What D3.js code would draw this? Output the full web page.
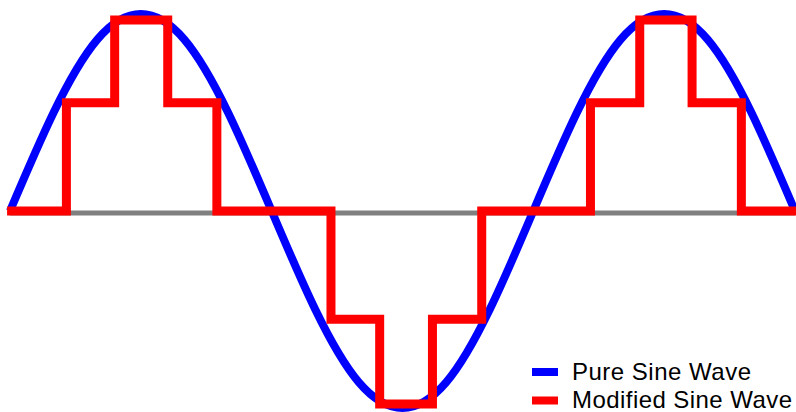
<!DOCTYPE html>
<html>
<head>
<meta charset="utf-8">
<script src="https://cdn.jsdelivr.net/npm/d3@7"></script>
<style>
  body { margin: 0; background: #fff; }
  svg { display: block; }
  .legend text { font-family: "Liberation Sans", Arial, sans-serif; font-size: 24px; fill: #000; }
</style>
</head>
<body>
<script>
// phase in degrees, amplitude in units of the pure sine peak
var sinePhase = [0, 30, 60, 90, 120, 150, 180, 210, 240, 270, 300, 330, 360, 390, 420, 450, 480, 510, 540];
var sineValue = [0, 0.5, 0.87, 1, 0.87, 0.5, 0, -0.5, -0.87, -1, -0.87, -0.5, 0, 0.5, 0.87, 1, 0.87, 0.5, 0];

// modified sine: step edges (degrees) and the level held after each edge
var stepEdges = [-2, 38.8, 72, 108.5, 142.3, 220.8, 254.3, 290.6, 324.5, 399.3, 433.2, 469.2, 503.1, 541];
var stepLevels = [0, 0.55, 0.97, 0.55, 0, -0.55, -0.98, -0.55, 0, 0.55, 0.97, 0.55, 0];

var baseline = [0, 540];
var baseLevel = -0.01;

var legendItems = ["Pure Sine Wave", "Modified Sine Wave"];
var legendColors = ["#0000ff", "#ff0000"];
var legendWidths = [179, 220];

var width = 796,
    height = 412;

var x = d3.scaleLinear()
        .domain([0, 540])
        .range([10, 795]);

var y = d3.scaleLinear()
        .domain([-1, 1])
        .range([408, 14]);

var svg = d3.select("body").append("svg")
        .attr("width", width)
        .attr("height", height);

// zero line
svg.append("line")
        .attr("x1", x(baseline[0]))
        .attr("x2", x(baseline[1]))
        .attr("y1", y(baseLevel))
        .attr("y2", y(baseLevel))
        .attr("stroke", "#808080")
        .attr("stroke-width", 5);

var sineLine = d3.line()
        .x(function(d) { return x(d[0]); })
        .y(function(d) { return y(d[1]); })
        .curve(d3.curveNatural);

svg.append("path")
        .datum(d3.zip(sinePhase, sineValue))
        .attr("d", sineLine)
        .attr("fill", "none")
        .attr("stroke", "#0000ff")
        .attr("stroke-width", 8);

var stepData = stepEdges.map(function(e, i) {
    return [e, i < stepLevels.length ? stepLevels[i] : stepLevels[stepLevels.length - 1]];
});

var stepLine = d3.line()
        .x(function(d) { return x(d[0]); })
        .y(function(d) { return y(d[1]); })
        .curve(d3.curveStepAfter);

svg.append("path")
        .datum(stepData)
        .attr("d", stepLine)
        .attr("fill", "none")
        .attr("stroke", "#ff0000")
        .attr("stroke-width", 9)
        .attr("stroke-linejoin", "miter");

// legend
var legend = svg.append("g")
        .attr("class", "legend")
        .attr("transform", "translate(532,372)");

var item = legend.selectAll("g")
        .data(legendItems)
    .enter().append("g")
        .attr("transform", function(d, i) { return "translate(0," + (i * 28.5) + ")"; });

item.append("rect")
        .attr("x", 0)
        .attr("y", -4)
        .attr("width", 26)
        .attr("height", 8)
        .attr("fill", function(d, i) { return legendColors[i]; });

item.append("text")
        .attr("x", 40)
        .attr("y", 7.5)
        .text(function(d) { return d; })
        .each(function(d, i) {
            // stretch letter spacing so the label spans the same width as the original
            var len = this.getComputedTextLength();
            var gap = (legendWidths[i] - len) / (d.length - 1);
            if (gap > 0) d3.select(this).style("letter-spacing", gap + "px");
        });
</script>
</body>
</html>
